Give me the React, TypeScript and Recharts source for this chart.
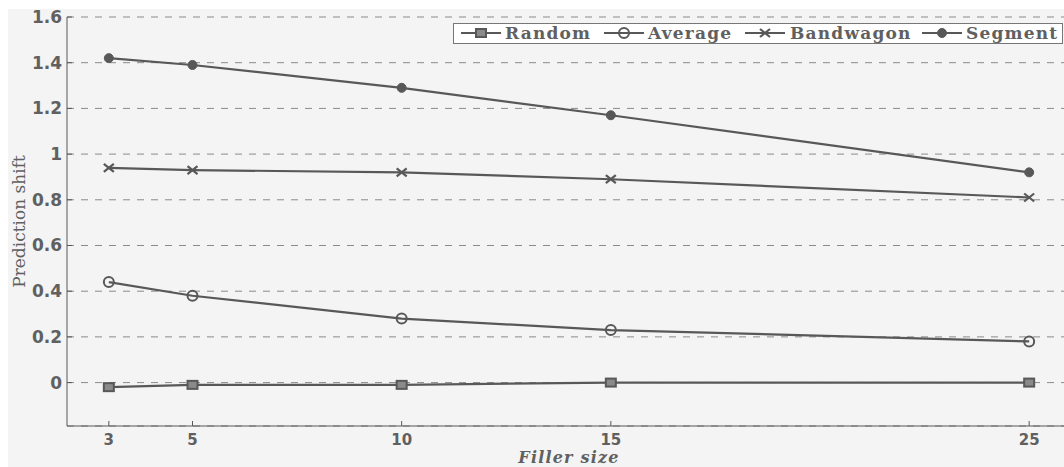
import React from 'react';
import { LineChart, Line, XAxis, YAxis, CartesianGrid, Legend } from 'recharts';

// filler sizes on the x axis
const fillerSizes = [3, 5, 10, 15, 25];
// prediction shift per attack
const randomShift = [-0.02, -0.01, -0.01, 0.0, 0.0];
const averageShift = [0.44, 0.38, 0.28, 0.23, 0.18];
const bandwagonShift = [0.94, 0.93, 0.92, 0.89, 0.81];
const segmentShift = [1.42, 1.39, 1.29, 1.17, 0.92];
const yTicks = [0, 0.2, 0.4, 0.6, 0.8, 1, 1.2, 1.4, 1.6];
const seriesNames = ['Random', 'Average', 'Bandwagon', 'Segment'];

const rows = fillerSizes.map((x, i) => ({
  x,
  Random: randomShift[i],
  Average: averageShift[i],
  Bandwagon: bandwagonShift[i],
  Segment: segmentShift[i],
}));

const INK = '#585858';
const TEXT = '#606060';
const BG = '#f4f4f4';

function marker(name: string, cx: number, cy: number, key?: string | number) {
  if (name === 'Random') {
    return <rect key={key} x={cx - 5} y={cy - 4} width={10} height={8} fill="#8a8a8a" stroke={INK} strokeWidth={2} />;
  }
  if (name === 'Average') {
    return <circle key={key} cx={cx} cy={cy} r={5} fill="none" stroke={INK} strokeWidth={2} />;
  }
  if (name === 'Bandwagon') {
    return (
      <g key={key} stroke={INK} strokeWidth={2.2}>
        <line x1={cx - 5} y1={cy - 4} x2={cx + 5} y2={cy + 4} />
        <line x1={cx - 5} y1={cy + 4} x2={cx + 5} y2={cy - 4} />
      </g>
    );
  }
  return <circle key={key} cx={cx} cy={cy} r={4.5} fill={INK} stroke={INK} />;
}

const dotFor = (name: string) => (p: any) => marker(name, p.cx, p.cy, `${name}-${p.index}`);

// legend item offsets inside the box (line start, text start)
const legendSlots = [
  { line: 8, text: 52 },
  { line: 151, text: 195 },
  { line: 292, text: 337 },
  { line: 469, text: 513 },
];

const renderLegend = () => (
  <svg width={611} height={21} style={{ display: 'block' }}>
    <rect x={0.5} y={0.5} width={609} height={20} fill="#fff" stroke="#777" strokeWidth={1} />
    {seriesNames.map((name, i) => (
      <g key={name}>
        <line x1={legendSlots[i].line} x2={legendSlots[i].line + 40} y1={10} y2={10} stroke={INK} strokeWidth={2} />
        {marker(name, legendSlots[i].line + 20, 10)}
        <text x={legendSlots[i].text} y={16} fill={TEXT} fontFamily="DejaVu Serif" fontWeight="bold" fontSize={17} letterSpacing={1.2}>
          {name}
        </text>
      </g>
    ))}
  </svg>
);

const BottomTick = (p: any) => (
  <g>
    <line x1={p.x} x2={p.x} y1={p.y} y2={p.y - 5} stroke={INK} />
    <text x={p.x} y={p.y + 19} textAnchor="middle" fill={TEXT} fontFamily="DejaVu Sans" fontWeight="bold" fontSize={15}>
      {p.payload.value}
    </text>
  </g>
);

const TopTick = (p: any) => <line x1={p.x} x2={p.x} y1={p.y} y2={p.y + 5} stroke={INK} />;

const LeftTick = (p: any) => (
  <g>
    <line x1={p.x} x2={p.x + 5} y1={p.y} y2={p.y} stroke={INK} />
    <text x={p.x - 5} y={p.y + 6} textAnchor="end" fill={TEXT} fontFamily="DejaVu Sans" fontWeight="bold" fontSize={17}>
      {p.payload.value}
    </text>
  </g>
);

const XTitle = (p: any) => {
  const vb = p.viewBox;
  return (
    <text x={vb.x + vb.width / 2} y={vb.y + 37} textAnchor="middle" fill={TEXT} fontFamily="DejaVu Serif" fontWeight="bold" fontStyle="italic" fontSize={16} letterSpacing={1.2}>
      Filler size
    </text>
  );
};

const YTitle = (p: any) => {
  const vb = p.viewBox;
  const cx = 25;
  const cy = vb.y + vb.height / 2;
  return (
    <text x={cx} y={cy} transform={`rotate(-90 ${cx} ${cy})`} textAnchor="middle" fill={TEXT} fontFamily="DejaVu Serif" fontSize={17}>
      Prediction shift
    </text>
  );
};

export default function App() {
  return (
    <div style={{ position: 'fixed', left: 0, top: 0, width: 1064, height: 467, overflow: 'hidden', background: '#fff' }}>
      <div style={{ position: 'absolute', left: 8, top: 9, right: 0, bottom: 0, background: BG }} />
      <div style={{ position: 'absolute', left: 0, top: 0 }}>
        <LineChart width={1100} height={467} data={rows} margin={{ top: 17, right: 29, bottom: 0, left: 0 }}>
          <CartesianGrid vertical={false} stroke="#8a8a8a" strokeDasharray="7 7" />
          <XAxis
            dataKey="x"
            type="number"
            domain={[2, 26]}
            ticks={fillerSizes}
            allowDataOverflow
            height={41}
            tickSize={0}
            tickMargin={0}
            tickLine={false}
            axisLine={{ stroke: INK }}
            tick={BottomTick}
            label={<XTitle />}
          />
          <XAxis
            xAxisId="top"
            orientation="top"
            dataKey="x"
            type="number"
            domain={[2, 26]}
            ticks={fillerSizes}
            allowDataOverflow
            height={0}
            tickSize={0}
            tickMargin={0}
            tickLine={false}
            axisLine={{ stroke: INK }}
            tick={TopTick}
          />
          <YAxis
            type="number"
            domain={[-0.19, 1.6]}
            ticks={yTicks}
            allowDataOverflow
            width={67}
            tickSize={0}
            tickMargin={0}
            tickLine={false}
            axisLine={{ stroke: INK }}
            tick={LeftTick}
            label={<YTitle />}
          />
          <Legend
            layout="vertical"
            align="center"
            verticalAlign="middle"
            content={renderLegend}
            wrapperStyle={{ left: 453, top: 23, width: 611, height: 21 }}
          />
          {seriesNames.map((name) => (
            <Line
              key={name}
              dataKey={name}
              name={name}
              stroke={INK}
              strokeWidth={2.2}
              dot={dotFor(name)}
              activeDot={false}
              isAnimationActive={false}
            />
          ))}
        </LineChart>
      </div>
    </div>
  );
}
